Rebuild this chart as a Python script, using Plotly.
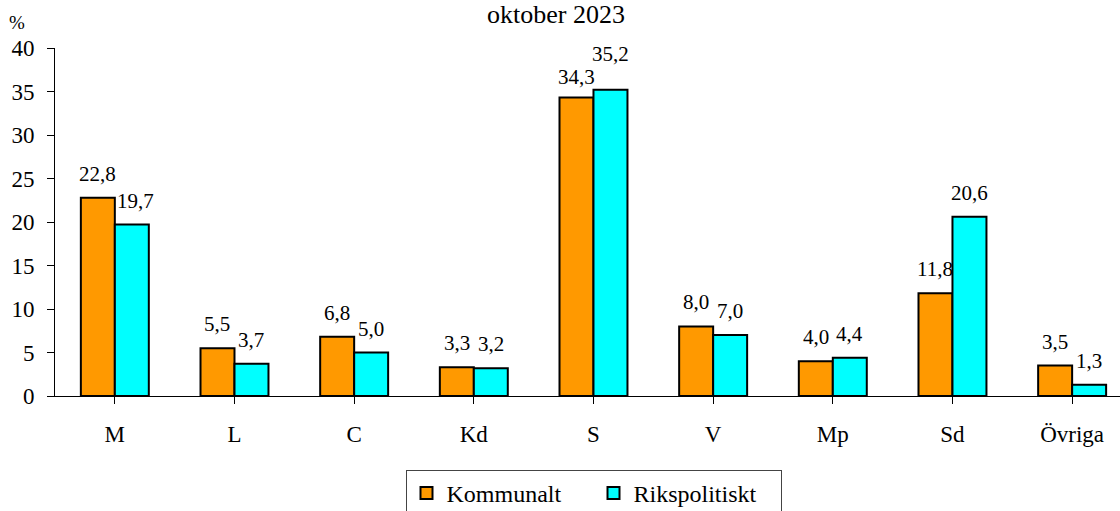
import plotly.graph_objects as go

categories = ["M", "L", "C", "Kd", "S", "V", "Mp", "Sd", "Övriga"]
kommunalt = [22.8, 5.5, 6.8, 3.3, 34.3, 8.0, 4.0, 11.8, 3.5]
rikspolitiskt = [19.7, 3.7, 5.0, 3.2, 35.2, 7.0, 4.4, 20.6, 1.3]
series_names = ["Kommunalt", "Rikspolitiskt"]
y_ticks = [0, 5, 10, 15, 20, 25, 30, 35, 40]
title_text = "oktober 2023"
y_unit = "%"

FONT = "'Times New Roman', 'Liberation Serif', Times, 'DejaVu Serif', serif"
colors = ["#FF9900", "#00FFFF"]

# extra label placement (pixels) to avoid overlapping labels, as in the reference
label_lift = {(1, 4): 12, (0, 4): -3}
label_nudge = {(1, 0): 4}

W, H = 1120, 511
ML, MR, MT, MB = 55, 0, 48, 115
PW, PH = W - ML - MR, H - MT - MB

def px_x(p):
    return (p - ML) / PW

def px_y(p):
    return (H - MB - p) / PH

def fmt(v):
    return f"{v:.1f}".replace(".", ",")

xs = list(range(len(categories)))

fig = go.Figure()
for name, vals, col in zip(series_names, [kommunalt, rikspolitiskt], colors):
    fig.add_trace(go.Bar(
        x=xs, y=vals, name=name,
        marker=dict(color=col, line=dict(color="black", width=2)),
    ))

annotations = []
for s, vals in enumerate([kommunalt, rikspolitiskt]):
    shift = -17 if s == 0 else 17
    for j, v in enumerate(vals):
        annotations.append(dict(
            x=j, y=v, xref="x", yref="y", text=fmt(v), showarrow=False,
            xanchor="center", yanchor="bottom",
            xshift=shift + label_nudge.get((s, j), 0),
            yshift=10 + label_lift.get((s, j), 0),
            font=dict(family=FONT, size=21, color="black"),
        ))

# title (top cropped in the reference) and unit label
annotations.append(dict(
    x=px_x(556), y=px_y(-2), xref="paper", yref="paper", text=title_text,
    showarrow=False, xanchor="center", yanchor="top",
    font=dict(family=FONT, size=26, color="black"),
))
annotations.append(dict(
    x=px_x(17), y=px_y(22), xref="paper", yref="paper",
    text=y_unit, showarrow=False, xanchor="center", yanchor="middle",
    font=dict(family=FONT, size=19, color="black"),
))

fig.update_layout(
    width=W, height=H,
    margin=dict(l=ML, r=MR, t=MT, b=MB, pad=0),
    paper_bgcolor="white", plot_bgcolor="white",
    barmode="group", bargap=0.432, bargroupgap=0,
    font=dict(family=FONT, size=20, color="black"),
    showlegend=True,
    legend=dict(
        orientation="h", xref="container", yref="container",
        x=593.5 / W, xanchor="center", y=(H - 470) / H, yanchor="top",
        bordercolor="#444444", borderwidth=1, bgcolor="white",
        font=dict(family=FONT, size=24, color="black"),
        entrywidth=142, entrywidthmode="pixels", traceorder="normal",
    ),
    annotations=annotations,
)
fig.update_xaxes(
    tickmode="array", tickvals=xs, ticktext=categories,
    range=[-0.5, 8.4], showgrid=False, zeroline=False, automargin=False,
    showline=True, linecolor="black", linewidth=1,
    ticks="outside", ticklen=7, tickcolor="black", tickwidth=1,
    tickson="boundaries", ticklabelstandoff=10,
    tickfont=dict(family=FONT, size=23, color="black"),
)
fig.update_yaxes(
    range=[0, 40], tickvals=y_ticks, showgrid=False, zeroline=False,
    automargin=False,
    showline=True, linecolor="black", linewidth=1,
    ticks="outside", ticklen=7, tickcolor="black", tickwidth=1,
    ticklabelstandoff=8,
    tickfont=dict(family=FONT, size=23, color="black"),
)

fig.write_html(
    "out.html",
    config={"displayModeBar": False},
    post_script="document.body.style.margin='0';document.body.style.overflow='hidden';",
)
